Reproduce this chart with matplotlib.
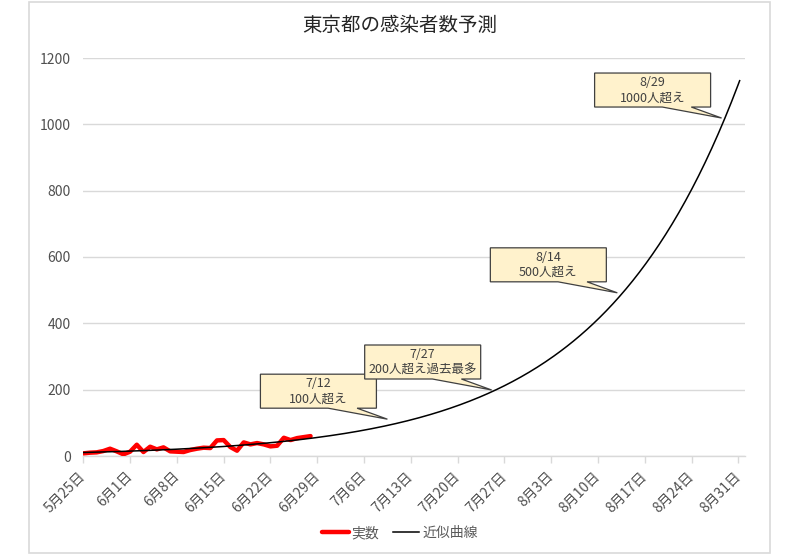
import numpy as np
import matplotlib
matplotlib.use('Agg')
import matplotlib.pyplot as plt
from matplotlib.patches import Polygon, Rectangle
from matplotlib.transforms import ScaledTranslation

plt.rcParams['font.family'] = ['Noto Sans CJK JP', 'DejaVu Sans']

# ---------------- data ----------------
title = '東京都の感染者数予測'
actual = [8, 10, 11, 15, 22, 14, 5, 13, 34, 12, 28, 20, 26, 14, 13, 12, 18,
          22, 25, 24, 47, 48, 27, 16, 41, 35, 39, 35, 29, 31, 55, 48, 54, 57, 60]
# exponential trendline y = a * exp(b * day), day 0 = 5/25
trend_a = 10.56
trend_b = 0.0476
trend_end_day = 98.2
tick_labels = ['5月25日', '6月1日', '6月8日', '6月15日', '6月22日', '6月29日',
               '7月6日', '7月13日', '7月20日', '7月27日', '8月3日', '8月10日',
               '8月17日', '8月24日', '8月31日']
tick_step = 7
axis_days = 99
y_ticks = [0, 200, 400, 600, 800, 1000, 1200]
callout_texts = ['7/12\n100人超え', '7/27\n200人超え過去最多',
                 '8/14\n500人超え', '8/29\n1000人超え']
callout_tip_day = [45.5, 61.1, 79.9, 95.5]
callout_tip_value = [111, 199, 492, 1019]
legend_labels = ['実数', '近似曲線']

# ---------------- figure ----------------
W, H = 800, 554
fig = plt.figure(figsize=(W / 100, H / 100), dpi=100)
fig.patch.set_facecolor('white')

# chart frame
fig.patches.append(Rectangle((29 / W, 1 / H), (770 - 29) / W, (552 - 1) / H,
                             transform=fig.transFigure, fill=False,
                             edgecolor='#d9d9d9', linewidth=1.2))

ax = fig.add_axes([83.3 / W, 1 - 456 / H, (745 - 83.3) / W, (456 - 58) / H])

days = np.arange(len(actual))
l1, = ax.plot(days, actual, color='#ff0000', linewidth=3.2,
              solid_joinstyle='round', solid_capstyle='round', zorder=3)
trend_x = np.linspace(0, trend_end_day, 400)
trend_y = trend_a * np.exp(trend_b * trend_x)
l2, = ax.plot(trend_x, trend_y, color='black', linewidth=1.1, zorder=4)

ax.set_xlim(0, axis_days)
ax.set_ylim(0, 1200)
ax.set_yticks(y_ticks)
ax.set_yticklabels([str(v) for v in y_ticks])
ax.set_xticks(np.arange(len(tick_labels)) * tick_step)
ax.set_xticklabels(tick_labels, rotation=45, ha='right', va='center',
                   rotation_mode='anchor')

for s in ['top', 'right', 'left']:
    ax.spines[s].set_visible(False)
ax.spines['bottom'].set_color('#d9d9d9')
ax.spines['bottom'].set_linewidth(1.0)
ax.grid(axis='y', color='#d9d9d9', linewidth=1.0)
ax.set_axisbelow(True)
ax.tick_params(axis='y', length=0, pad=9, labelsize=10, labelcolor='#505050')
ax.tick_params(axis='x', length=5, width=1.0, color='#d9d9d9', pad=8,
               labelsize=10, labelcolor='#505050')

# callouts (pixel geometry relative to the tip)
L, R, T, B = -127, -11, 45, 11
Wb = R - L
bx1 = L + Wb * 7 / 12
bx2 = L + Wb * 10 / 12
shape_px = [(L, B), (bx1, B), (0, 0), (bx2, B), (R, B), (R, T), (L, T)]
shape_in = [(x / 100, y / 100) for x, y in shape_px]
for txt, d, v in zip(callout_texts, callout_tip_day, callout_tip_value):
    trans = fig.dpi_scale_trans + ScaledTranslation(d, v, ax.transData)
    poly = Polygon(shape_in, closed=True, transform=trans, facecolor='#fff2cc',
                   edgecolor='#404040', linewidth=0.9, clip_on=False, zorder=6)
    ax.add_patch(poly)
    ax.text((L + R) / 200, (T + B) / 200, txt, transform=trans, ha='center',
            va='center', fontsize=9, color='#404040', linespacing=1.25,
            zorder=7, clip_on=False)

fig.text(0.5, 1 - 25 / H, title, ha='center', va='center', fontsize=14,
         color='#262626')

fig.legend([l1, l2], legend_labels, loc='center',
           bbox_to_anchor=(0.5, 1 - 533 / H), ncol=2, frameon=False,
           fontsize=10, labelcolor='#595959', handlelength=1.9,
           handletextpad=0.2, columnspacing=1.0)

fig.savefig('out.png', dpi=100)
